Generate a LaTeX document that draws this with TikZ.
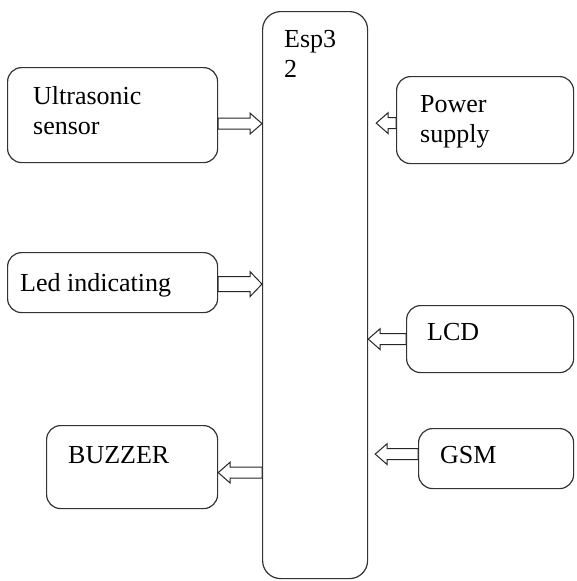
\documentclass[tikz,border=0pt]{standalone}
\usepackage{fontspec}
\setmainfont{Liberation Serif}
\usetikzlibrary{calc}
\begin{document}
\begin{tikzpicture}[x=1pt,y=-1pt,
  box/.style={draw=black!80, line width=1.2pt, rounded corners=14pt, anchor=north west, inner sep=0pt},
  lbl/.style={anchor=north west, inner sep=0pt, align=left, font=\fontsize{26}{30}\selectfont},
  barrow/.style={draw=black!85, line width=1pt, fill=white, line join=miter, to path={
    let \p1=(\tikztostart), \p2=(\tikztotarget), \n2={\x2-sign(\x2-\x1)*\hl} in
    ({\x1},{\y1+\sh}) -- ({\n2*1pt},{\y1+\sh}) -- ({\n2*1pt},{\y1+\hh}) -- ({\x2},{\y1})
    -- ({\n2*1pt},{\y1-\hh}) -- ({\n2*1pt},{\y1-\sh}) -- ({\x1},{\y1-\sh}) -- cycle}}
]
\def\sh{5.5pt}\def\hh{10.5pt}\def\hl{12pt}
\useasboundingbox (0,0) rectangle (577,581);
% boxes
\node[box, minimum width=210pt, minimum height=95pt] (us) at (7,67) {};
\node[box, minimum width=210pt, minimum height=60pt] (led) at (7,252) {};
\node[box, minimum width=171pt, minimum height=83pt] (buz) at (46,425) {};
\node[box, rounded corners=18pt, minimum width=105pt, minimum height=567pt] (esp) at (262,11) {};
\node[box, minimum width=177pt, minimum height=87pt] (pow) at (396,76) {};
\node[box, minimum width=167pt, minimum height=67pt] (lcd) at (406,305) {};
\node[box, minimum width=155pt, minimum height=60pt] (gsm) at (418,428) {};
% labels
\node[lbl] (tus) at (33,86) {Ultrasonic\\sensor};
\node[lbl] (tled) at (20,273) {Led indicating};
\node[lbl] (tbuz) at (68,446) {BUZZER};
\node[lbl] (tesp) at (284,30) {Esp3\\2};
\node[lbl] (tpow) at (420,95) {Power\\supply};
\node[lbl] (tlcd) at (427,323) {LCD};
\node[lbl] (tgsm) at (440,446) {GSM};
% arrows
\draw[barrow] ([yshift=-8.5pt]us.east) to (esp.west);
\begin{scope}
\def\sh{7.5pt}\def\hh{12.5pt}
\draw[barrow] ([yshift=-1.5pt]led.east) to (esp.west);
\end{scope}
\draw[barrow] ([yshift=-177.5pt]esp.west) to (buz.east);
\draw[barrow] ([yshift=-3pt]pow.west) to ([xshift=8pt]esp.east);
\draw[barrow] (lcd.west) to (esp.east);
\draw[barrow] ([yshift=4.5pt]gsm.west) to ([xshift=7pt]esp.east);
\end{tikzpicture}
\end{document}
